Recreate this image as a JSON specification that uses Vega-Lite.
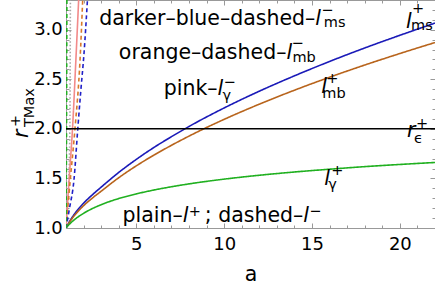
{
  "$schema": "https://vega.github.io/schema/vega-lite/v6.json",
  "width": 369,
  "height": 228,
  "autosize": {"type": "none"},
  "padding": {"left": 66, "top": 0, "right": 0, "bottom": 57},
  "background": "white",
  "config": {
    "font": "DejaVu Sans",
    "view": {"stroke": "#999999", "strokeWidth": 1},
    "axis": {"domain": false, "grid": false, "tickColor": "#999999", "tickWidth": 1, "labelFont": "DejaVu Sans", "labelFontSize": 18, "labelColor": "black", "titleFont": "DejaVu Sans", "titleFontWeight": "normal", "titleColor": "black", "titleFontSize": 20.5}
  },
  "datasets": {
    "curves": [
      {"s": "l+ms", "a": 1, "r": 1}, {"s": "l+ms", "a": 1.25, "r": 1.08}, {"s": "l+ms", "a": 1.5, "r": 1.145}, {"s": "l+ms", "a": 2, "r": 1.25}, {"s": "l+ms", "a": 2.5, "r": 1.335}, {"s": "l+ms", "a": 3, "r": 1.412}, {"s": "l+ms", "a": 4, "r": 1.56}, {"s": "l+ms", "a": 5, "r": 1.692}, {"s": "l+ms", "a": 6, "r": 1.812}, {"s": "l+ms", "a": 7, "r": 1.921}, {"s": "l+ms", "a": 8, "r": 2.024}, {"s": "l+ms", "a": 10, "r": 2.211}, {"s": "l+ms", "a": 12, "r": 2.38}, {"s": "l+ms", "a": 14, "r": 2.535}, {"s": "l+ms", "a": 16, "r": 2.68}, {"s": "l+ms", "a": 18, "r": 2.816}, {"s": "l+ms", "a": 20, "r": 2.944}, {"s": "l+ms", "a": 22, "r": 3.067},
      {"s": "l+mb", "a": 1, "r": 1}, {"s": "l+mb", "a": 1.25, "r": 1.072}, {"s": "l+mb", "a": 1.5, "r": 1.13}, {"s": "l+mb", "a": 2, "r": 1.225}, {"s": "l+mb", "a": 2.5, "r": 1.302}, {"s": "l+mb", "a": 3, "r": 1.371}, {"s": "l+mb", "a": 4, "r": 1.507}, {"s": "l+mb", "a": 5, "r": 1.627}, {"s": "l+mb", "a": 6, "r": 1.735}, {"s": "l+mb", "a": 7, "r": 1.834}, {"s": "l+mb", "a": 8, "r": 1.927}, {"s": "l+mb", "a": 10, "r": 2.096}, {"s": "l+mb", "a": 12, "r": 2.249}, {"s": "l+mb", "a": 14, "r": 2.39}, {"s": "l+mb", "a": 16, "r": 2.521}, {"s": "l+mb", "a": 18, "r": 2.644}, {"s": "l+mb", "a": 20, "r": 2.76}, {"s": "l+mb", "a": 22, "r": 2.871},
      {"s": "l+g", "a": 1, "r": 1}, {"s": "l+g", "a": 1.1, "r": 1.02}, {"s": "l+g", "a": 1.25, "r": 1.048}, {"s": "l+g", "a": 1.5, "r": 1.087}, {"s": "l+g", "a": 2, "r": 1.148}, {"s": "l+g", "a": 2.5, "r": 1.196}, {"s": "l+g", "a": 3, "r": 1.235}, {"s": "l+g", "a": 4, "r": 1.297}, {"s": "l+g", "a": 5, "r": 1.344}, {"s": "l+g", "a": 6, "r": 1.383}, {"s": "l+g", "a": 7, "r": 1.416}, {"s": "l+g", "a": 8, "r": 1.445}, {"s": "l+g", "a": 10, "r": 1.493}, {"s": "l+g", "a": 12, "r": 1.532}, {"s": "l+g", "a": 14, "r": 1.565}, {"s": "l+g", "a": 16, "r": 1.593}, {"s": "l+g", "a": 18, "r": 1.619}, {"s": "l+g", "a": 20, "r": 1.641}, {"s": "l+g", "a": 22, "r": 1.661},
      {"s": "gray", "a": 1, "r": 1}, {"s": "gray", "a": 1.15, "r": 1.45}, {"s": "gray", "a": 1.22, "r": 2}, {"s": "gray", "a": 1.25, "r": 3.3},
      {"s": "l-g", "a": 1, "r": 1}, {"s": "l-g", "a": 1.2, "r": 1.55}, {"s": "l-g", "a": 1.37, "r": 2}, {"s": "l-g", "a": 1.55, "r": 2.65}, {"s": "l-g", "a": 1.72, "r": 3.3},
      {"s": "l-mb", "a": 1, "r": 1}, {"s": "l-mb", "a": 1.25, "r": 1.5}, {"s": "l-mb", "a": 1.51, "r": 2}, {"s": "l-mb", "a": 1.8, "r": 2.7}, {"s": "l-mb", "a": 1.95, "r": 3.3},
      {"s": "l-ms", "a": 1, "r": 1}, {"s": "l-ms", "a": 1.2, "r": 1.2}, {"s": "l-ms", "a": 1.45, "r": 1.48}, {"s": "l-ms", "a": 1.67, "r": 2}, {"s": "l-ms", "a": 1.85, "r": 2.4}, {"s": "l-ms", "a": 2.02, "r": 2.75}, {"s": "l-ms", "a": 2.22, "r": 3.3},
      {"s": "gdash", "a": 1, "r": 1}, {"s": "gdash", "a": 1.03, "r": 2}, {"s": "gdash", "a": 1.05, "r": 3.3}
    ],
    "mainText": [
      {"a": 15.189, "r": 3.048, "t": "darker–blue–dashed–"},
      {"a": 13.543, "r": 2.705, "t": "orange–dashed–"},
      {"a": 9.627, "r": 2.342, "t": "pink–"},
      {"a": 7.641, "r": 1.061, "t": "plain–"},
      {"a": 14.508, "r": 1.061, "t": "; dashed–"}
    ],
    "italicText": [
      {"a": 15.189, "r": 3.048, "t": "l"},
      {"a": 13.543, "r": 2.705, "t": "l"},
      {"a": 9.627, "r": 2.342, "t": "l"},
      {"a": 7.641, "r": 1.061, "t": "l"},
      {"a": 14.508, "r": 1.061, "t": "l"},
      {"a": 20.354, "r": 3.018, "t": "l"},
      {"a": 15.53, "r": 2.362, "t": "l"},
      {"a": 15.7, "r": 1.434, "t": "l"},
      {"a": 20.411, "r": 1.918, "t": "r"}
    ],
    "smallText": [
      {"a": 15.53, "r": 3.149, "t": "−"}, {"a": 15.672, "r": 3.028, "t": "ms"},
      {"a": 13.827, "r": 2.816, "t": "−"}, {"a": 13.884, "r": 2.675, "t": "mb"},
      {"a": 9.968, "r": 2.422, "t": "−"}, {"a": 9.911, "r": 2.291, "t": "γ"},
      {"a": 20.695, "r": 3.168, "t": "+"}, {"a": 20.638, "r": 2.998, "t": "ms"},
      {"a": 15.814, "r": 2.463, "t": "+"}, {"a": 15.587, "r": 2.315, "t": "mb"},
      {"a": 20.922, "r": 2.009, "t": "+"}, {"a": 20.808, "r": 1.857, "t": "ϵ"},
      {"a": 16.097, "r": 1.535, "t": "+"}, {"a": 15.927, "r": 1.393, "t": "γ"},
      {"a": 7.981, "r": 1.121, "t": "+"}, {"a": 14.849, "r": 1.121, "t": "−"}
    ],
    "yTitleItalic": [
      {"a": -1.157, "r": 1.908, "t": "r"}
    ],
    "yTitleSmall": [
      {"a": -1.611, "r": 2.019, "t": "+"},
      {"a": -0.816, "r": 2.019, "t": "TMax"}
    ]
  },
  "resolve": {"axis": {"x": "independent", "y": "independent"}},
  "layer": [
    {
      "data": {"name": "curves"},
      "mark": {"type": "line", "clip": true, "interpolate": "monotone"},
      "encoding": {
        "x": {"field": "a", "type": "quantitative", "scale": {"domain": [1, 22], "nice": false, "zero": false},
              "axis": {"orient": "bottom", "values": [5, 10, 15, 20], "tickSize": -5, "labelPadding": 12.8, "title": "a", "titleBaseline": "alphabetic", "titleY": 52}},
        "y": {"field": "r", "type": "quantitative", "scale": {"domain": [1, 3.3], "nice": false, "zero": false},
              "axis": {"orient": "left", "values": [1, 1.5, 2, 2.5, 3], "format": ".1f", "tickSize": -5, "labelPadding": 8.7, "title": null}},
        "detail": {"field": "s"},
        "color": {"field": "s", "type": "nominal", "legend": null,
                  "scale": {"domain": ["l+ms", "l+mb", "l+g", "gray", "l-g", "l-mb", "l-ms", "gdash"],
                            "range": ["#1a1ab8", "#b8641c", "#20b020", "#a8a8a8", "#f28a8a", "#d8792a", "#2020c8", "#22b022"]}},
        "strokeDash": {"field": "s", "type": "nominal", "legend": null,
                  "scale": {"domain": ["l+ms", "l+mb", "l+g", "gray", "l-g", "l-mb", "l-ms", "gdash"],
                            "range": [[1, 0], [1, 0], [1, 0], [1.5, 2], [1, 0], [4, 3], [4, 3], [4, 3]]}},
        "strokeWidth": {"field": "s", "type": "nominal", "legend": null,
                  "scale": {"domain": ["l+ms", "l+mb", "l+g", "gray", "l-g", "l-mb", "l-ms", "gdash"],
                            "range": [1.6, 1.6, 1.6, 1.4, 1.6, 2, 2, 2]}},
        "order": {"field": "a", "type": "quantitative"}
      }
    },
    {
      "data": {"values": [{}]},
      "mark": {"type": "rule", "color": "black", "strokeWidth": 1.5},
      "encoding": {
        "y": {"datum": 2, "type": "quantitative", "scale": {"domain": [1, 3.3], "nice": false, "zero": false}, "axis": null}
      }
    },
    {
      "data": {"name": "mainText"},
      "mark": {"type": "text", "align": "right", "baseline": "alphabetic", "fontSize": 20.5, "font": "DejaVu Sans", "color": "black"},
      "encoding": {
        "x": {"field": "a", "type": "quantitative", "scale": {"domain": [1, 22], "nice": false, "zero": false},
              "axis": {"orient": "bottom", "values": [1,2,3,4,5,6,7,8,9,10,11,12,13,14,15,16,17,18,19,20,21,22], "tickSize": -3, "labels": false, "title": null}},
        "y": {"field": "r", "type": "quantitative", "scale": {"domain": [1, 3.3], "nice": false, "zero": false},
              "axis": {"orient": "left", "values": [1,1.1,1.2,1.3,1.4,1.5,1.6,1.7,1.8,1.9,2,2.1,2.2,2.3,2.4,2.5,2.6,2.7,2.8,2.9,3,3.1,3.2,3.3], "tickSize": -3, "labels": false, "title": null}},
        "text": {"field": "t"}
      }
    },
    {
      "data": {"name": "italicText"},
      "mark": {"type": "text", "align": "left", "baseline": "alphabetic", "fontSize": 20.5, "font": "DejaVu Sans", "fontStyle": "italic", "color": "black"},
      "encoding": {
        "x": {"field": "a", "type": "quantitative", "scale": {"domain": [1, 22], "nice": false, "zero": false},
              "axis": {"orient": "top", "values": [5, 10, 15, 20], "tickSize": -5, "labels": false, "title": null}},
        "y": {"field": "r", "type": "quantitative", "scale": {"domain": [1, 3.3], "nice": false, "zero": false},
              "axis": {"orient": "right", "values": [1, 1.5, 2, 2.5, 3], "tickSize": -5, "labels": false, "title": null}},
        "text": {"field": "t"}
      }
    },
    {
      "data": {"name": "smallText"},
      "mark": {"type": "text", "align": "left", "baseline": "alphabetic", "fontSize": 14.5, "font": "DejaVu Sans", "color": "black"},
      "encoding": {
        "x": {"field": "a", "type": "quantitative", "scale": {"domain": [1, 22], "nice": false, "zero": false},
              "axis": {"orient": "top", "values": [1,2,3,4,5,6,7,8,9,10,11,12,13,14,15,16,17,18,19,20,21,22], "tickSize": -3, "labels": false, "title": null}},
        "y": {"field": "r", "type": "quantitative", "scale": {"domain": [1, 3.3], "nice": false, "zero": false},
              "axis": {"orient": "right", "values": [1,1.1,1.2,1.3,1.4,1.5,1.6,1.7,1.8,1.9,2,2.1,2.2,2.3,2.4,2.5,2.6,2.7,2.8,2.9,3,3.1,3.2,3.3], "tickSize": -3, "labels": false, "title": null}},
        "text": {"field": "t"}
      }
    },
    {
      "data": {"name": "yTitleItalic"},
      "mark": {"type": "text", "align": "left", "baseline": "alphabetic", "angle": 270, "fontSize": 20.5, "font": "DejaVu Sans", "fontStyle": "italic", "color": "black"},
      "encoding": {
        "x": {"field": "a", "type": "quantitative", "scale": {"domain": [1, 22], "nice": false, "zero": false}, "axis": null},
        "y": {"field": "r", "type": "quantitative", "scale": {"domain": [1, 3.3], "nice": false, "zero": false}, "axis": null},
        "text": {"field": "t"}
      }
    },
    {
      "data": {"name": "yTitleSmall"},
      "mark": {"type": "text", "align": "left", "baseline": "alphabetic", "angle": 270, "fontSize": 14.5, "font": "DejaVu Sans", "color": "black"},
      "encoding": {
        "x": {"field": "a", "type": "quantitative", "scale": {"domain": [1, 22], "nice": false, "zero": false}, "axis": null},
        "y": {"field": "r", "type": "quantitative", "scale": {"domain": [1, 3.3], "nice": false, "zero": false}, "axis": null},
        "text": {"field": "t"}
      }
    }
  ]
}
